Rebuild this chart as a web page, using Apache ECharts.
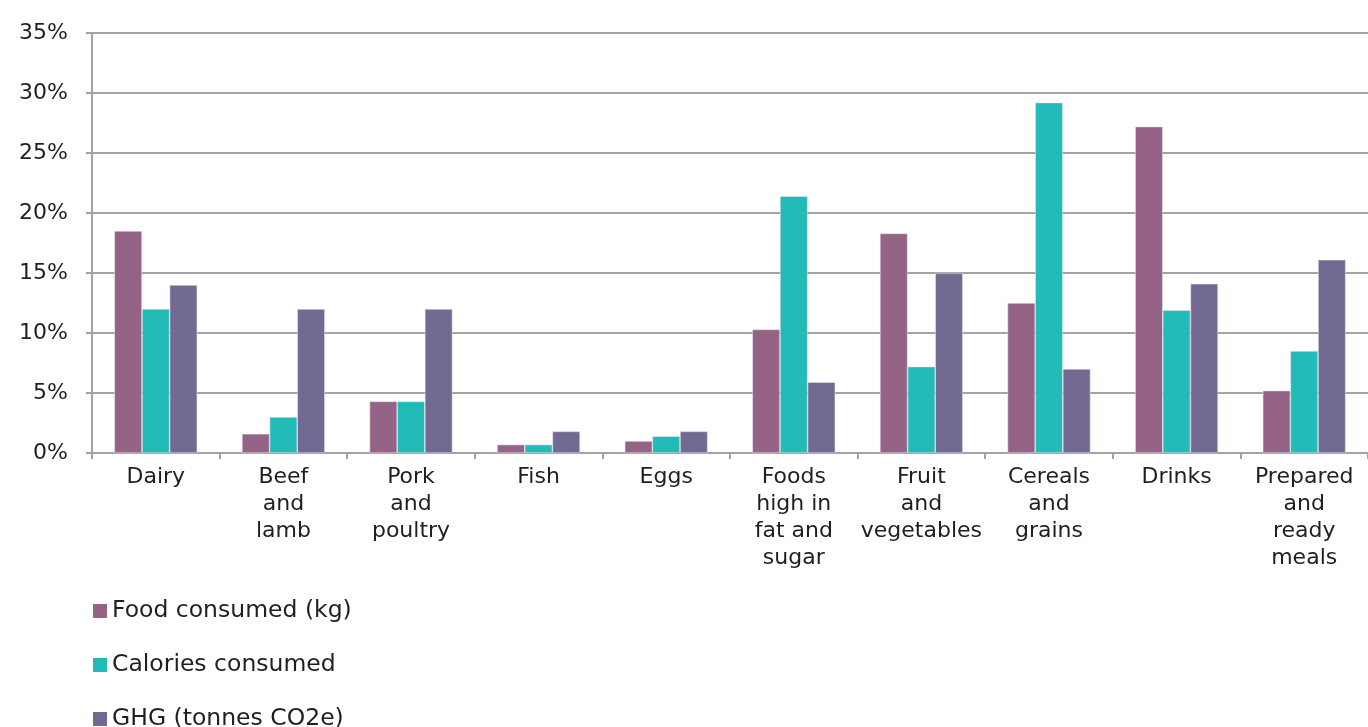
<!DOCTYPE html>
<html>
<head>
<meta charset="utf-8">
<script src="https://cdn.jsdelivr.net/npm/echarts@6/dist/echarts.min.js"></script>
<style>
  html, body { margin: 0; padding: 0; background: #ffffff; }
  #chart { width: 1368px; height: 727px; }
</style>
</head>
<body>
<div id="chart"></div>
<script>
// Food categories (multi-line labels as printed under the axis)
const categories = [
  'Dairy',
  'Beef\nand\nlamb',
  'Pork\nand\npoultry',
  'Fish',
  'Eggs',
  'Foods\nhigh in\nfat and\nsugar',
  'Fruit\nand\nvegetables',
  'Cereals\nand\ngrains',
  'Drinks',
  'Prepared\nand\nready\nmeals'
];

// Share of total, in percent
const foodConsumed = [18.5, 1.6, 4.3, 0.7, 1.0, 10.3, 18.3, 12.5, 27.2, 5.2];
const caloriesConsumed = [12.0, 3.0, 4.3, 0.7, 1.4, 21.4, 7.2, 29.2, 11.9, 8.5];
const ghgEmissions = [14.0, 12.0, 12.0, 1.8, 1.8, 5.9, 15.0, 7.0, 14.1, 16.1];

const seriesNames = ['Food consumed (kg)', 'Calories consumed', 'GHG (tonnes CO2e)'];
const seriesColors = ['#946386', '#22bbb8', '#736a94'];

const FONT = 'DejaVu Sans';
const TEXT = '#1f1f1f';
const AXIS_GREY = '#a3a3a3';

const chart = echarts.init(document.getElementById('chart'), null, { renderer: 'canvas' });

function barSeries(name, data, color) {
  return {
    name: name,
    type: 'bar',
    data: data,
    barGap: '0%',
    barCategoryGap: '35%',
    itemStyle: { color: color, borderColor: 'rgba(230,230,236,0.9)', borderWidth: 0.6 },
    emphasis: { disabled: true }
  };
}

// One stacked legend row per series, placed beneath the category labels
const legendRowTops = [594, 648, 702];
const legends = seriesNames.map(function (name, i) {
  return {
    orient: 'vertical',
    left: 88,
    top: legendRowTops[i],
    itemWidth: 14,
    itemHeight: 14,
    icon: 'rect',
    itemStyle: { borderWidth: 0 },
    textStyle: { fontFamily: FONT, fontSize: 23.5, color: TEXT, lineHeight: 22, padding: [0, 0, 0, 0] },
    data: [name]
  };
});

chart.setOption({
  animation: false,
  textStyle: { fontFamily: FONT, color: TEXT },
  grid: { left: 92, right: 0, top: 33, height: 420, containLabel: false },
  legend: legends,
  xAxis: {
    type: 'category',
    data: categories,
    axisLine: { show: true, lineStyle: { color: AXIS_GREY, width: 2 } },
    axisTick: { show: true, length: 6, lineStyle: { color: AXIS_GREY, width: 2 } },
    axisLabel: {
      interval: 0,
      margin: 11,
      fontFamily: FONT,
      fontSize: 22,
      color: TEXT,
      lineHeight: 27,
      align: 'center'
    }
  },
  yAxis: {
    type: 'value',
    min: 0,
    max: 35,
    interval: 5,
    axisLine: { show: true, lineStyle: { color: AXIS_GREY, width: 2 } },
    axisTick: { show: true, length: 6, lineStyle: { color: AXIS_GREY, width: 2 } },
    splitLine: { show: true, lineStyle: { color: AXIS_GREY, width: 2 } },
    axisLabel: {
      formatter: '{value}%',
      margin: 24,
      fontFamily: FONT,
      fontSize: 22,
      color: TEXT
    }
  },
  series: [
    barSeries(seriesNames[0], foodConsumed, seriesColors[0]),
    barSeries(seriesNames[1], caloriesConsumed, seriesColors[1]),
    barSeries(seriesNames[2], ghgEmissions, seriesColors[2])
  ]
});
</script>
</body>
</html>
